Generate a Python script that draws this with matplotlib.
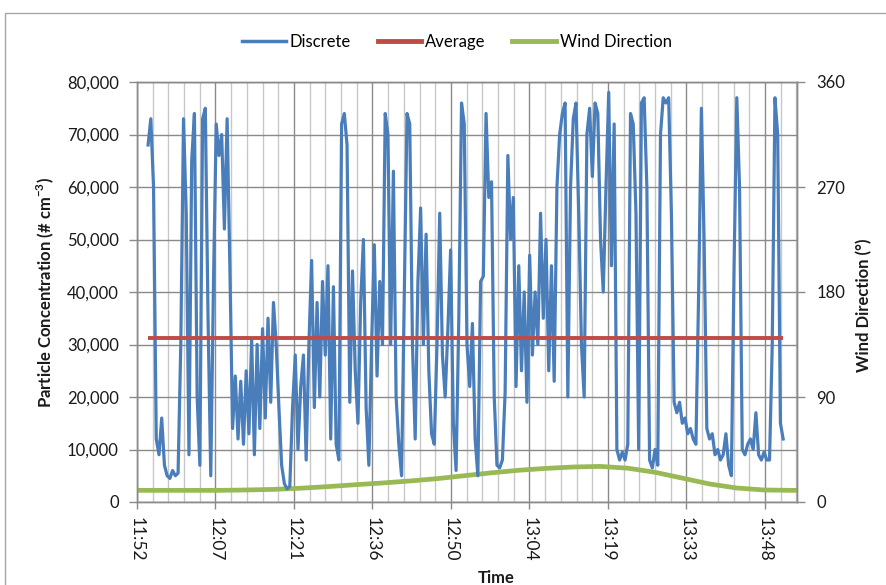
import matplotlib
matplotlib.use("Agg")
import matplotlib.pyplot as plt
import matplotlib.dates as mdates
from matplotlib.ticker import FixedLocator, MultipleLocator, FuncFormatter
from matplotlib.lines import Line2D
from matplotlib.patches import Rectangle
import numpy as np
import pandas as pd

plt.rcParams['font.family'] = ['Lato', 'DejaVu Sans']

# ---------------- data ----------------
series_names = ["Discrete", "Average", "Wind Direction"]

# Discrete particle concentration, thousands of # cm^-3, one reading every 30 s from 11:54:50
discrete_start = "11:54:50"
discrete_step = "30s"
discrete_thousands = [
    68, 73, 60, 12, 9, 16, 7, 5, 4.5, 6,
    5, 5.5, 30, 73, 55, 9, 65, 74, 20, 7,
    73, 75, 35, 5, 42, 72, 66, 70, 52, 73,
    45, 14, 24, 12, 23, 11, 25, 13, 31, 9,
    30, 14, 33, 16, 35, 19, 38, 30, 18, 7,
    3.5, 2.5, 3, 18, 28, 10, 22, 28, 8, 30,
    46, 18, 38, 20, 42, 28, 45, 12, 41, 11,
    8, 72, 74, 68, 19, 44, 25, 15, 38, 50,
    18, 7, 30, 49, 24, 42, 30, 74, 70, 30,
    63, 20, 11, 5, 40, 74, 72, 30, 12, 42,
    56, 30, 51, 25, 13, 11, 30, 55, 28, 20,
    33, 48, 15, 6, 35, 76, 72, 30, 22, 34,
    12, 5, 42, 43, 74, 58, 61, 20, 7, 6.5,
    8, 21, 66, 50, 58, 22, 45, 25, 40, 19,
    47, 28, 40, 30, 55, 35, 50, 25, 45, 23,
    60, 70, 74, 76, 20, 60, 73, 76, 55, 30,
    20, 70, 75, 62, 76, 74, 50, 40, 60, 78,
    45, 72, 10, 8, 9.5, 8, 11, 74, 72, 55,
    10, 76, 77, 60, 8, 6.5, 10, 7, 70, 77,
    76, 77, 55, 19, 17, 19, 15, 16, 13, 14,
    12, 11, 40, 75, 50, 14, 12, 13, 9, 10,
    8, 9, 13, 7, 5, 45, 77, 60, 10, 9,
    11, 12, 10, 17, 9, 8, 9.5, 8, 8, 30,
    77, 70, 15, 12,
]

average_conc = 31200

# Wind direction (degrees), every 5 minutes from 11:52:48
wind_start = "11:52:48"
wind_step = "5min"
wind_deg = [10, 10, 10, 10, 10.3, 10.8, 11.8, 13.2, 14.8, 16.3,
            18, 20, 22.5, 25, 27.2, 28.8, 30, 30.5, 29, 25.5,
            20.5, 15.5, 12, 10.3, 10, 10]

x_tick_labels = ["11:52", "12:07", "12:21", "12:36", "12:50",
                 "13:04", "13:19", "13:33", "13:48"]
y_left_ticks = [0, 10000, 20000, 30000, 40000, 50000, 60000, 70000, 80000]
y_right_ticks = [0, 90, 180, 270, 360]

# ---------------- build series ----------------
day = pd.Timestamp("2012-06-01")
disc_t = pd.date_range(day + pd.Timedelta(discrete_start), periods=len(discrete_thousands),
                       freq=discrete_step)
disc_v = np.array(discrete_thousands) * 1000.0
avg_t = [disc_t[0], disc_t[-1]]
avg_v = [average_conc, average_conc]
wind_t = pd.date_range(day + pd.Timedelta(wind_start), periods=len(wind_deg), freq=wind_step)

C_BLUE = "#4A7EBB"
C_RED = "#BE4B48"
C_GREEN = "#98B954"
GRID_DARK = "#8a8a8a"
GRID_LIGHT = "#c8c8c8"
TXT = "#1a1a1a"

W, H = 887, 585
fig = plt.figure(figsize=(W / 100, H / 100), dpi=100)
fig.patches.append(Rectangle((5 / W, -0.01), 1.0, 1 - 13 / H + 0.01, transform=fig.transFigure,
                             fill=False, edgecolor="#a6a6a6", linewidth=1.0))

ax = fig.add_axes([137 / W, 1 - 502 / H, 660 / W, 420 / H])
ax2 = ax.twinx()
# secondary axes (wind + grid) drawn underneath
ax.set_zorder(ax2.get_zorder() + 1)
ax.patch.set_visible(False)
ax2.patch.set_visible(True)
ax2.patch.set_facecolor("white")
ax2.xaxis.set_visible(True)

base = mdates.date2num(day)
major_pos = base + 0.495 + 0.01 * np.arange(len(x_tick_labels))
minor_pos = base + 0.495 + 0.002 * np.arange(43)
ax.set_xlim(base + 0.495, base + 0.57908)
ax.xaxis.set_major_locator(FixedLocator(major_pos))
ax.xaxis.set_minor_locator(FixedLocator(minor_pos))
ax.set_xticks(major_pos)
ax.set_xticklabels(x_tick_labels, rotation=-90, fontsize=12.5)

ax.set_ylim(0, 80000)
ax.set_yticks(y_left_ticks)
ax.yaxis.set_major_formatter(FuncFormatter(lambda v, p: f"{v:,.0f}"))
ax2.set_ylim(0, 360)
ax2.set_yticks(y_right_ticks)
ax2.yaxis.set_minor_locator(MultipleLocator(45))

# grid on bottom axes
ax2.grid(True, axis="x", which="major", color=GRID_DARK, linewidth=1.0)
ax2.grid(True, axis="x", which="minor", color=GRID_LIGHT, linewidth=1.0)
ax2.grid(True, axis="y", which="both", color=GRID_DARK, linewidth=1.0)
ax2.set_axisbelow(True)
ax2.tick_params(axis="x", which="both", length=0, labelbottom=False)
ax2.tick_params(axis="y", which="minor", length=0)
ax2.tick_params(axis="y", which="major", direction="out", length=6, width=1,
                color=GRID_DARK, pad=8, labelsize=12, labelcolor=TXT)

ax.tick_params(axis="y", which="major", direction="out", length=6, width=1,
               color=GRID_DARK, pad=7, labelsize=12, labelcolor=TXT)
ax.tick_params(axis="x", which="major", direction="out", length=5, width=1,
               color=GRID_DARK, pad=6, labelsize=12.5, labelcolor=TXT)
ax.tick_params(axis="x", which="minor", length=0)

for a in (ax, ax2):
    for s in a.spines.values():
        s.set_color(GRID_DARK)
        s.set_linewidth(1.0)

# series
ax2.plot(wind_t, wind_deg, color=C_GREEN, linewidth=3.4, solid_capstyle="butt")
ax.plot(disc_t, disc_v, color=C_BLUE, linewidth=2.3, solid_joinstyle="round")
ax.plot(avg_t, avg_v, color=C_RED, linewidth=2.8, solid_capstyle="butt")

# titles
fig.text(45 / W, 1 - 292 / H, "Particle Concentration (# cm$^{\\mathregular{-3}}$)",
         rotation=90, ha="center", va="center", fontsize=12, fontweight="bold", color=TXT)
fig.text(864 / W, 1 - 305 / H, "Wind Direction (°)", rotation=90, ha="center",
         va="center", fontsize=12, fontweight="bold", color=TXT)
fig.text(496 / W, 1 - 578 / H, "Time", ha="center", va="center", fontsize=12,
         fontweight="bold", color=TXT)

handles = [Line2D([], [], color=C_BLUE, linewidth=2.5),
           Line2D([], [], color=C_RED, linewidth=3.5),
           Line2D([], [], color=C_GREEN, linewidth=3.5)]
fig.legend(handles, series_names, loc="center", bbox_to_anchor=(457 / W, 1 - 42 / H),
           ncol=3, frameon=False, fontsize=12, handlelength=2.6, handletextpad=0.25,
           columnspacing=1.6, borderaxespad=0)

fig.savefig("out.png", dpi=100, facecolor="white")
